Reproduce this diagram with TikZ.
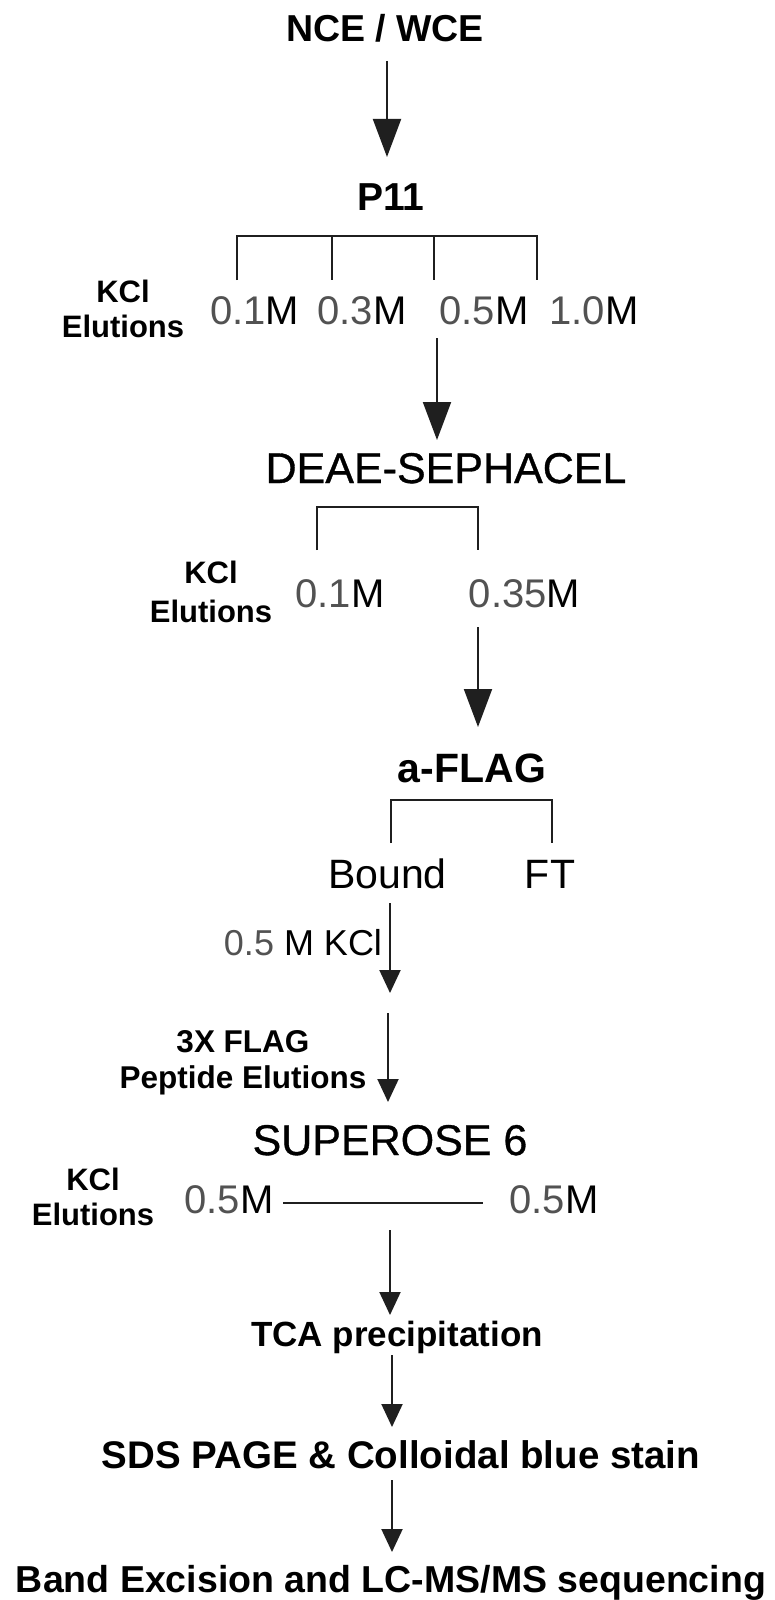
\documentclass[tikz,border=0pt]{standalone}
\usepackage{fontspec}
\setmainfont{Liberation Sans}
\newfontfamily\semibf[FakeBold=0.8]{Liberation Sans}
\usetikzlibrary{arrows.meta}
\newcommand{\myfs}[1]{\fontsize{#1pt}{#1pt}\selectfont}
\definecolor{numgray}{gray}{0.32}
\definecolor{linegray}{gray}{0.12}
\tikzset{
  lbl/.style={anchor=base, inner sep=0pt, outer sep=0pt},
  boldlbl/.style={lbl, font=\bfseries\myfs{#1}},
  reglbl/.style={lbl, font=\myfs{#1}},
  semilbl/.style={lbl, font=\semibf\myfs{#1}},
  bigarr/.style={line width=2pt, draw=linegray, -{Triangle[length=38pt,width=28pt]}},
  smallarr/.style={line width=2pt, draw=linegray, -{Triangle[length=23pt,width=21pt]}},
  brk/.style={line width=2pt, draw=linegray},
}
\newcommand{\conc}[1]{\textcolor{numgray}{#1}M}
\begin{document}
\begin{tikzpicture}[x=1pt,y=-1pt]
\useasboundingbox[fill=white] (0,0) rectangle (775,1600);

% ---- NCE / WCE -> P11
\node[boldlbl=37.5] (nce) at (385,42) {NCE / WCE};
\coordinate (a1s) at (387,61);
\coordinate (a1e) at (387,157);
\draw[bigarr] (a1s) -- (a1e);
\node[boldlbl=39] (p11) at (391,210) {P11};

% ---- P11 bracket
\draw[brk] (237,280) -- (237,236) -- (537,236) -- (537,280);
\draw[brk] (332,236) -- (332,280);
\draw[brk] (434,236) -- (434,280);
\node[reglbl=40] (m01) at (254.5,324) {\conc{0.1}};
\node[reglbl=40] (m03) at (362,324) {\conc{0.3}};
\node[reglbl=40] (m05) at (484,324) {\conc{0.5}};
\node[reglbl=40] (m10) at (594,324) {\conc{1.0}};
\node[boldlbl=31] (kcl1) at (123,302) {KCl};
\node[boldlbl=31] (elu1) at (123,337) {Elutions};

% ---- -> DEAE-SEPHACEL
\coordinate (a2s) at (437,338);
\coordinate (a2e) at (437,440);
\draw[bigarr] (a2s) -- (a2e);
\node[semilbl=43] (deae) at (446,483) {DEAE-SEPHACEL};

% ---- DEAE bracket
\draw[brk] (317,550) -- (317,507) -- (478,507) -- (478,550);
\node[boldlbl=31] (kcl2) at (211,583) {KCl};
\node[boldlbl=31] (elu2) at (211,622) {Elutions};
\node[reglbl=40] (m01b) at (340,607) {\conc{0.1}};
\node[reglbl=40] (m035) at (524.5,607) {\conc{0.35}};

% ---- -> a-FLAG
\coordinate (a3s) at (478,627);
\coordinate (a3e) at (478,727);
\draw[bigarr] (a3s) -- (a3e);
\node[boldlbl=41] (aflag) at (472,782) {a-FLAG};

% ---- a-FLAG bracket
\draw[brk] (391,843) -- (391,800) -- (552,800) -- (552,843);
\node[reglbl=41] (bound) at (387.5,888) {Bound};
\node[reglbl=41] (ft) at (550,888) {FT};

% ---- 0.5 M KCl
\coordinate (a4s) at (390,903);
\coordinate (a4e) at (390,993);
\draw[smallarr] (a4s) -- (a4e);
\node[reglbl=36] (kclwash) at (303,955) {\textcolor{numgray}{0.5} M KCl};

% ---- 3X FLAG peptide elutions
\coordinate (a5s) at (388,1013);
\coordinate (a5e) at (388,1102);
\draw[smallarr] (a5s) -- (a5e);
\node[boldlbl=31.5] (flag3x) at (243,1052) {3X FLAG};
\node[boldlbl=31.5] (pep) at (243,1088) {Peptide Elutions};

% ---- SUPEROSE 6
\node[semilbl=43] (sup) at (390,1155) {SUPEROSE 6};
\node[reglbl=40] (m05l) at (229,1213) {\conc{0.5}};
\node[reglbl=40] (m05r) at (554,1213) {\conc{0.5}};
\coordinate (ls) at (283,1203);
\coordinate (le) at (483,1203);
\draw[brk] (ls) -- (le);
\node[boldlbl=31] (kcl3) at (93,1190) {KCl};
\node[boldlbl=31] (elu3) at (93,1225) {Elutions};

% ---- TCA
\coordinate (a6s) at (390,1230);
\coordinate (a6e) at (390,1315);
\draw[smallarr] (a6s) -- (a6e);
\node[boldlbl=35] (tca) at (397,1346) {TCA precipitation};

% ---- SDS PAGE
\coordinate (a7s) at (392,1355);
\coordinate (a7e) at (392,1427);
\draw[smallarr] (a7s) -- (a7e);
\node[boldlbl=38.5] (sds) at (401,1468) {SDS PAGE \& Colloidal blue stain};

% ---- Band excision
\coordinate (a8s) at (392,1480);
\coordinate (a8e) at (392,1552);
\draw[smallarr] (a8s) -- (a8e);
\node[boldlbl=37.5] (band) at (391,1592) {Band Excision and LC-MS/MS sequencing};
\end{tikzpicture}
\end{document}
